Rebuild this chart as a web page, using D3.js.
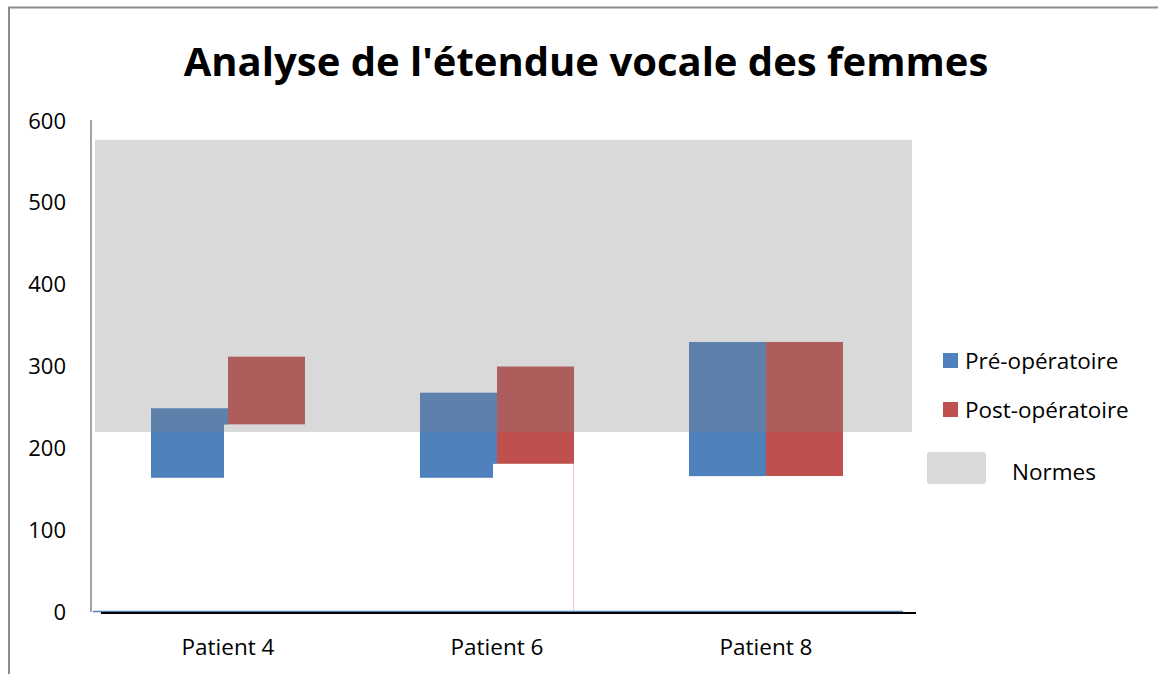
<!DOCTYPE html>
<html>
<head>
<meta charset="utf-8">
<script src="https://cdn.jsdelivr.net/npm/d3@7"></script>
<style>
  body { margin: 0; background: #fff; }
  text { font-family: "Open Sans", "Noto Sans", sans-serif; fill: #000; }
</style>
</head>
<body>
<div id="chart"></div>
<script>
const width = 1158,
  height = 674,
  margin = { top: 121, bottom: 62, left: 91, right: 242 }

// data
const patients = ["Patient 4", "Patient 6", "Patient 8"]
const preLow = [164, 164, 166]
const preHigh = [249, 268, 330]
const postLow = [229, 181, 166]
const postHigh = [312, 300, 330]
const normes = [220, 577]
const yTicks = [0, 100, 200, 300, 400, 500, 600]
const seriesNames = ["Pré-opératoire", "Post-opératoire"]
const legendLabels = ["Pré-opératoire", "Post-opératoire", "Normes"]

const blue = "#4f81bd", red = "#c0504d"

const svg = d3.select("#chart")
  .append("svg")
  .attr("width", width)
  .attr("height", height)

// outer frame (runs off the right and bottom of the picture)
svg.append("rect")
  .attr("x", 9).attr("y", 7.5)
  .attr("width", 1160).attr("height", 700)
  .attr("fill", "none")
  .attr("stroke", "#8c8c8c")
  .attr("stroke-width", 2)

svg.append("text")
  .attr("x", 586)
  .attr("y", 76)
  .attr("text-anchor", "middle")
  .style("font-size", "40px")
  .style("font-weight", "bold")
  .text("Analyse de l'étendue vocale des femmes")

const y = d3.scaleLinear()
  .domain([0, 600])
  .range([612, 121])

const x0 = d3.scaleBand()
  .domain(patients)
  .range([93.5, 900.5])

const x1 = d3.scaleBand()
  .domain(seriesNames)
  .range([0, x0.bandwidth()])
  .paddingOuter(0.747)

// y labels, no tick marks
const yAxis = svg.append("g")
  .attr("transform", "translate(91,0)")
  .call(d3.axisLeft(y).tickValues(yTicks).tickSize(0).tickPadding(25))
yAxis.select(".domain").attr("stroke", "#868686").attr("stroke-width", 1.5)
  .attr("d", `M0,${y(0)}V120`)
yAxis.selectAll("text").style("font-size", "22px").style("font-family", "'Open Sans'")

const rows = patients.map((p, i) => ({
  p,
  bars: [
    { s: seriesNames[0], lo: preLow[i], hi: preHigh[i], c: blue },
    { s: seriesNames[1], lo: postLow[i], hi: postHigh[i], c: red }
  ]
}))

const groups = svg.append("g").selectAll("g")
  .data(rows)
  .join("g")
  .attr("transform", d => `translate(${x0(d.p)},0)`)

groups.selectAll("rect")
  .data(d => d.bars)
  .join("rect")
  .attr("x", d => x1(d.s))
  .attr("width", x1.bandwidth())
  .attr("y", d => y(d.hi))
  .attr("height", d => y(d.lo) - y(d.hi))
  .attr("fill", d => d.c)

// norms band, translucent grey over the bars
svg.append("rect")
  .attr("x", 95)
  .attr("width", 912 - 95)
  .attr("y", y(normes[1]))
  .attr("height", y(normes[0]) - y(normes[1]))
  .attr("fill", "rgb(128,128,128)")
  .attr("fill-opacity", 0.3)

// white invisible bases of the post bars (they mask a bit of the band)
groups.append("rect")
  .attr("x", d => x1(seriesNames[1]) - 4)
  .attr("width", x1.bandwidth() + 6)
  .attr("y", (d, i) => y(postLow[i]))
  .attr("height", (d, i) => y(0) - y(postLow[i]) - 1)
  .attr("fill", "#fff")

// faint edge left on the second base
svg.append("line")
  .attr("x1", x0(patients[1]) + x1(seriesNames[1]) + x1.bandwidth() - 0.5)
  .attr("x2", x0(patients[1]) + x1(seriesNames[1]) + x1.bandwidth() - 0.5)
  .attr("y1", y(postLow[1])).attr("y2", y(0))
  .attr("stroke", "#ecc8c8").attr("stroke-width", 1)

// thin blue base line and the black x axis
svg.append("line")
  .attr("x1", 93).attr("x2", 903)
  .attr("y1", 611.5).attr("y2", 611.5)
  .attr("stroke", blue).attr("stroke-width", 1.5)

const xAxis = svg.append("g")
  .attr("transform", `translate(0,${y(0) + 1})`)
  .call(d3.axisBottom(x0).tickSize(0).tickPadding(26))
xAxis.select(".domain").attr("stroke", "#000").attr("stroke-width", 2)
  .attr("d", "M101,0H916")
xAxis.selectAll("text").style("font-size", "22.5px").style("font-family", "'Open Sans'")

// legend
const legend = svg.append("g")
legend.append("rect").attr("x", 943).attr("y", 353).attr("width", 15).attr("height", 15).attr("fill", blue)
legend.append("rect").attr("x", 943).attr("y", 402).attr("width", 15).attr("height", 15).attr("fill", red)
legend.append("rect").attr("x", 927).attr("y", 452).attr("width", 59).attr("height", 32).attr("rx", 3).attr("fill", "#d9d9d9")

legend.selectAll("text")
  .data(legendLabels)
  .join("text")
  .attr("x", (d, i) => i < 2 ? 965 : 1012)
  .attr("y", (d, i) => [361, 410, 472][i])
  .attr("dy", "0.35em")
  .style("font-size", "22.5px")
  .text(d => d)
</script>
</body>
</html>
